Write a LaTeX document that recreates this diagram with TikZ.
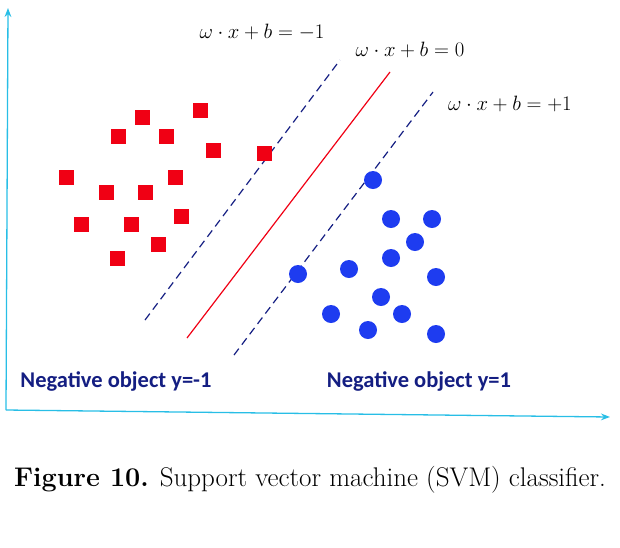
\documentclass[tikz,border=0pt]{standalone}
\usepackage{fontspec}
\newfontfamily\carl{Carlito}
\usetikzlibrary{arrows.meta}
\definecolor{axc}{RGB}{40,190,230}
\definecolor{navy}{RGB}{20,30,130}
\definecolor{sq}{RGB}{240,0,20}
\definecolor{dot}{RGB}{30,60,240}
\tikzset{ax/.style={axc,line width=1.3pt,-{Stealth[length=9pt]}},
 sqr/.style={fill=sq,minimum size=15pt,inner sep=0,draw=none},
 circ/.style={circle,fill=dot,minimum size=18pt,inner sep=0,draw=none},
 hyp/.style={navy,line width=1.2pt,dashed,dash pattern=on 8pt off 5pt},
 lab/.style={font=\carl\bfseries\fontsize{22.5}{26}\selectfont,text=navy},
 eq/.style={font=\fontsize{20.5}{24}\selectfont}}
\begin{document}
\begin{tikzpicture}[x=1pt,y=-1pt]
\useasboundingbox (0,0) rectangle (620,547);
\coordinate (o) at (6,410);
\coordinate (yt) at (8,8);
\coordinate (xt) at (610,417);
\draw[ax] (o) -- (yt);
\draw[ax] (o) -- (xt);
\coordinate (l1) at (145,320); \coordinate (l2) at (340,60);
\coordinate (m1) at (187,338); \coordinate (m2) at (390,72);
\coordinate (r1) at (234,355); \coordinate (r2) at (433,92);
\draw[hyp] (l1) -- (l2);
\draw[sq,line width=1.2pt] (m1) -- (m2);
\draw[hyp] (r1) -- (r2);
\node[eq] (e1) at (262,32) {$\omega\cdot x+b=-1$};
\node[eq] (e2) at (410,50) {$\omega\cdot x+b=0$};
\node[eq] (e3) at (510,104) {$\omega\cdot x+b=+1$};
\foreach \p [count=\i] in {(200,110),(142,117),(118,136),(166,136),(213,150),(264,153),(66,177),(106,192),(145,192),(175,177),(81,224),(131,224),(181,216),(158,244),(117,258)}
  \node[sqr] (s\i) at \p {};
\foreach \p [count=\i] in {(373,180),(391,219),(432,219),(415,242),(391,258),(349,269),(298,274),(436,277),(381,297),(331,314),(402,314),(368,330),(436,334)}
  \node[circ] (c\i) at \p {};
\node[lab] (n1) at (116,381) {Negative object y=-1};
\node[lab] (n2) at (419,381) {Negative object y=1};
\node[font=\fontsize{27}{32}\selectfont] (cap) at (310,480) {\textbf{Figure 10.} Support vector machine (SVM) classifier.};
\end{tikzpicture}
\end{document}
